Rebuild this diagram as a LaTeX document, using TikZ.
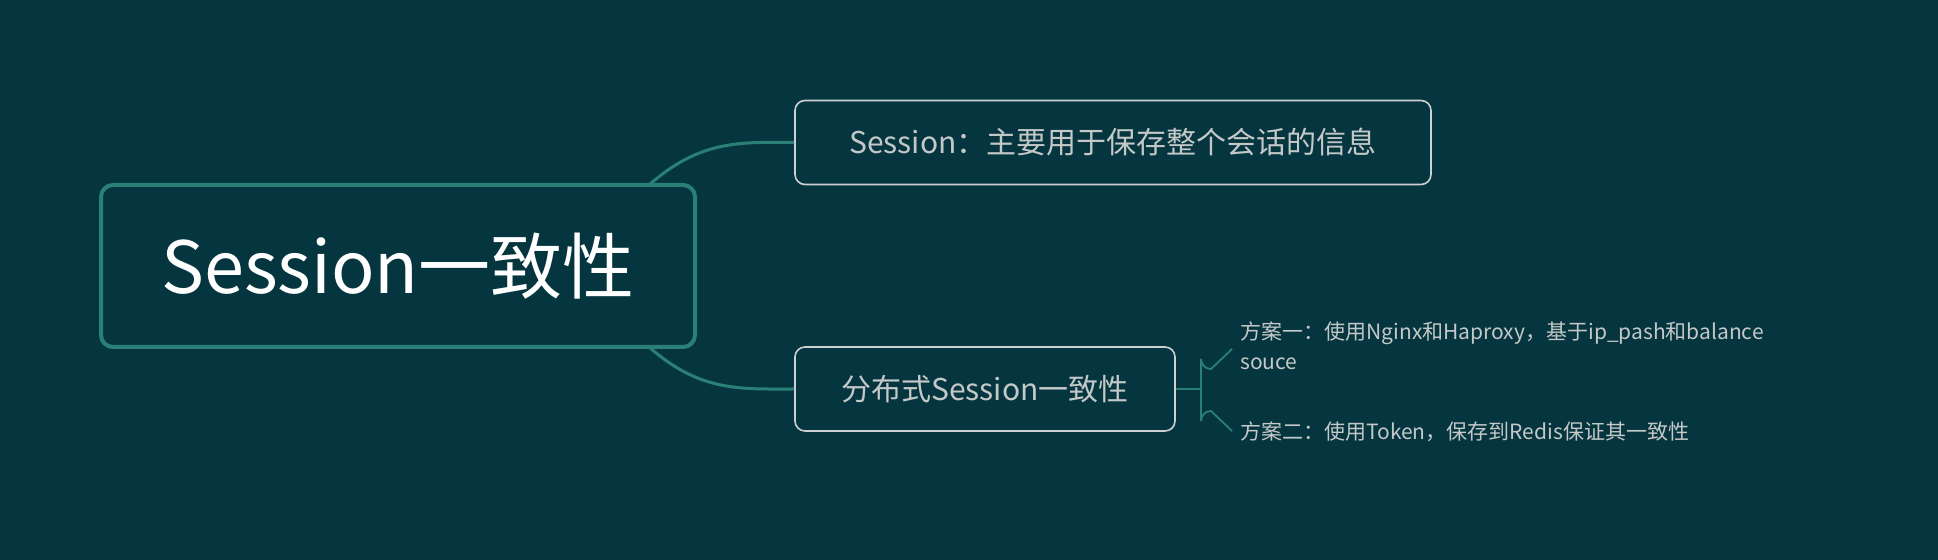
\documentclass[tikz,border=0pt]{standalone}
\usepackage{fontspec}
\setmainfont{Noto Sans CJK SC}
\definecolor{bg}{HTML}{05363F}
\definecolor{teal}{HTML}{2A8077}
\definecolor{txt}{HTML}{C4C8C8}
\begin{document}
\begin{tikzpicture}[x=0.5pt,y=-0.5pt,
  sub/.style={draw=txt!85, line width=0.8pt, rounded corners=5pt, fill=bg, text=txt, font=\fontsize{15}{18}\selectfont, inner sep=0pt},
  conn/.style={teal, line width=1.5pt},
  leaf/.style={text=txt, font=\fontsize{10.5}{15}\selectfont, anchor=west, align=left, inner sep=0pt}]
\fill[bg] (0,0) rectangle (1938,560);
\useasboundingbox (0,0) rectangle (1938,560);
\node[draw=teal, line width=2pt, rounded corners=6pt, fill=bg, minimum width=297pt, minimum height=81pt, text=white, font=\fontsize{36}{40}\selectfont] (main) at (398,266) {Session一致性};
\node[sub, minimum width=318pt, minimum height=42pt] (b1) at (1113,142.5) {Session：主要用于保存整个会话的信息};
\node[sub, minimum width=190pt, minimum height=42pt] (b2) at (985,389) {分布式Session一致性};
\coordinate (m1) at (649,185);
\coordinate (m2) at (649,347);
\draw[conn] (m1) .. controls (700,140) and (740,142) .. (b1.west);
\draw[conn] (m2) .. controls (700,392) and (740,389) .. (b2.west);
\node[leaf] (l1) at (1240,346) {方案一：使用Nginx和Haproxy，基于ip\_pash和balance\\souce};
\node[leaf] (l2) at (1240,432) {方案二：使用Token，保存到Redis保证其一致性};
\coordinate (j) at (1201,389);
\coordinate (t1) at (1232,349);
\coordinate (t2) at (1232,431);
\draw[teal, line width=0.9pt] (b2.east) -- (j);
\draw[teal, line width=0.9pt] (j) -- (1201,359) arc[start angle=180,end angle=90,radius=10] -- (t1);
\draw[teal, line width=0.9pt] (j) -- (1201,421) arc[start angle=180,end angle=270,radius=10] -- (t2);
\end{tikzpicture}
\end{document}
